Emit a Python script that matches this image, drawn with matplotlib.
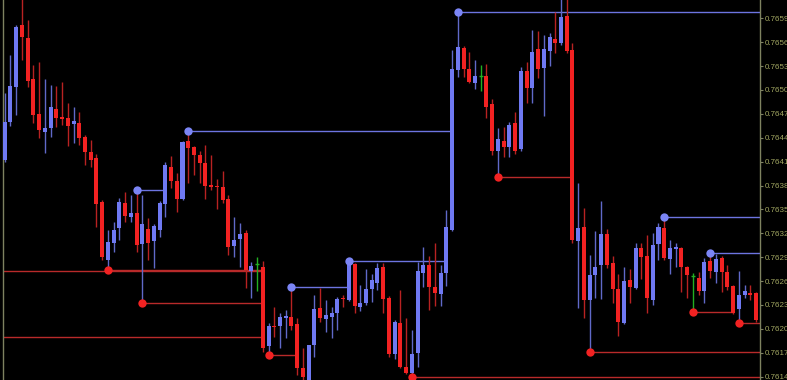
import matplotlib
matplotlib.use("Agg")
import matplotlib.pyplot as plt
import numpy as np

# candle data (132 bars)
opens = [0.76417, 0.76465, 0.76509, 0.76587, 0.76570, 0.76519, 0.76475, 0.76452, 0.76457, 0.76481,
         0.76471, 0.76470, 0.76462, 0.76463, 0.76446, 0.76427, 0.76420, 0.76364, 0.76292, 0.76313,
         0.76332, 0.76363, 0.76345, 0.76350, 0.76311, 0.76330, 0.76315, 0.76329, 0.76362, 0.76408,
         0.76391, 0.76368, 0.76441, 0.76434, 0.76423, 0.76413, 0.76386, 0.76384, 0.76383, 0.76368,
         0.76309, 0.76318, 0.76325, 0.76278, 0.76286, 0.76283, 0.76183, 0.76209, 0.76208, 0.76219,
         0.76220, 0.76211, 0.76156, 0.76141, 0.76185, 0.76231, 0.76217, 0.76220, 0.76225, 0.76244,
         0.76241, 0.76286, 0.76232, 0.76237, 0.76255, 0.76263, 0.76283, 0.76244, 0.76174, 0.76212,
         0.76157, 0.76149, 0.76175, 0.76275, 0.76285, 0.76258, 0.76249, 0.76275, 0.76329, 0.76530,
         0.76558, 0.76531, 0.76514, 0.76523, 0.76523, 0.76487, 0.76429, 0.76441, 0.76433, 0.76463,
         0.76431, 0.76529, 0.76507, 0.76556, 0.76533, 0.76554, 0.76569, 0.76564, 0.76598, 0.76555,
         0.76315, 0.76333, 0.76241, 0.76273, 0.76285, 0.76324, 0.76288, 0.76255, 0.76213, 0.76266,
         0.76256, 0.76307, 0.76296, 0.76241, 0.76312, 0.76332, 0.76293, 0.76305, 0.76307, 0.76283,
         0.76272, 0.76269, 0.76252, 0.76290, 0.76277, 0.76294, 0.76277, 0.76259, 0.76230, 0.76248,
         0.76250, 0.76250]
highs = [0.76501, 0.76549, 0.76587, 0.76625, 0.76593, 0.76536, 0.76540, 0.76519, 0.76511, 0.76510,
         0.76515, 0.76489, 0.76484, 0.76477, 0.76448, 0.76442, 0.76425, 0.76367, 0.76329, 0.76339,
         0.76369, 0.76377, 0.76373, 0.76379, 0.76373, 0.76344, 0.76337, 0.76366, 0.76415, 0.76422,
         0.76401, 0.76441, 0.76454, 0.76435, 0.76429, 0.76436, 0.76423, 0.76393, 0.76403, 0.76373,
         0.76346, 0.76338, 0.76329, 0.76289, 0.76295, 0.76290, 0.76213, 0.76233, 0.76225, 0.76229,
         0.76257, 0.76219, 0.76181, 0.76185, 0.76248, 0.76256, 0.76241, 0.76233, 0.76245, 0.76248,
         0.76290, 0.76288, 0.76260, 0.76280, 0.76274, 0.76288, 0.76288, 0.76246, 0.76216, 0.76254,
         0.76219, 0.76204, 0.76289, 0.76308, 0.76297, 0.76313, 0.76285, 0.76354, 0.76555, 0.76603,
         0.76560, 0.76553, 0.76543, 0.76536, 0.76538, 0.76494, 0.76457, 0.76458, 0.76465, 0.76477,
         0.76534, 0.76540, 0.76580, 0.76579, 0.76574, 0.76577, 0.76603, 0.76625, 0.76625, 0.76564,
         0.76388, 0.76357, 0.76298, 0.76328, 0.76366, 0.76330, 0.76297, 0.76274, 0.76283, 0.76280,
         0.76313, 0.76313, 0.76323, 0.76326, 0.76338, 0.76346, 0.76317, 0.76313, 0.76308, 0.76284,
         0.76275, 0.76276, 0.76294, 0.76300, 0.76299, 0.76297, 0.76285, 0.76260, 0.76278, 0.76260,
         0.76260, 0.76251]
lows = [0.76415, 0.76460, 0.76474, 0.76543, 0.76509, 0.76463, 0.76445, 0.76426, 0.76446, 0.76459,
        0.76461, 0.76435, 0.76438, 0.76436, 0.76411, 0.76408, 0.76333, 0.76292, 0.76279, 0.76301,
        0.76317, 0.76339, 0.76339, 0.76302, 0.76237, 0.76292, 0.76282, 0.76320, 0.76345, 0.76382,
        0.76352, 0.76367, 0.76388, 0.76398, 0.76388, 0.76368, 0.76379, 0.76355, 0.76363, 0.76298,
        0.76295, 0.76283, 0.76256, 0.76244, 0.76252, 0.76176, 0.76172, 0.76195, 0.76181, 0.76194,
        0.76204, 0.76147, 0.76136, 0.76136, 0.76170, 0.76214, 0.76201, 0.76194, 0.76204, 0.76233,
        0.76240, 0.76225, 0.76227, 0.76235, 0.76239, 0.76254, 0.76225, 0.76170, 0.76167, 0.76156,
        0.76148, 0.76145, 0.76157, 0.76258, 0.76229, 0.76234, 0.76234, 0.76259, 0.76328, 0.76521,
        0.76521, 0.76514, 0.76506, 0.76504, 0.76470, 0.76423, 0.76396, 0.76421, 0.76421, 0.76424,
        0.76429, 0.76489, 0.76489, 0.76520, 0.76472, 0.76535, 0.76551, 0.76561, 0.76551, 0.76313,
        0.76231, 0.76219, 0.76176, 0.76244, 0.76243, 0.76281, 0.76237, 0.76196, 0.76211, 0.76237,
        0.76255, 0.76268, 0.76225, 0.76235, 0.76292, 0.76292, 0.76274, 0.76283, 0.76251, 0.76244,
        0.76226, 0.76248, 0.76237, 0.76269, 0.76263, 0.76251, 0.76254, 0.76224, 0.76213, 0.76244,
        0.76241, 0.76214]
closes = [0.76465, 0.76510, 0.76584, 0.76572, 0.76516, 0.76474, 0.76455, 0.76457, 0.76484, 0.76470,
          0.76468, 0.76460, 0.76466, 0.76445, 0.76427, 0.76417, 0.76362, 0.76295, 0.76314, 0.76329,
          0.76364, 0.76347, 0.76350, 0.76310, 0.76337, 0.76313, 0.76334, 0.76363, 0.76411, 0.76391,
          0.76368, 0.76440, 0.76432, 0.76423, 0.76413, 0.76384, 0.76383, 0.76383, 0.76367, 0.76308,
          0.76317, 0.76324, 0.76279, 0.76284, 0.76286, 0.76181, 0.76208, 0.76207, 0.76220, 0.76220,
          0.76208, 0.76156, 0.76144, 0.76185, 0.76230, 0.76219, 0.76222, 0.76225, 0.76242, 0.76242,
          0.76289, 0.76234, 0.76237, 0.76255, 0.76266, 0.76282, 0.76243, 0.76174, 0.76214, 0.76157,
          0.76149, 0.76173, 0.76278, 0.76285, 0.76258, 0.76250, 0.76275, 0.76333, 0.76531, 0.76559,
          0.76531, 0.76515, 0.76523, 0.76523, 0.76484, 0.76429, 0.76443, 0.76433, 0.76461, 0.76429,
          0.76529, 0.76507, 0.76553, 0.76531, 0.76556, 0.76572, 0.76564, 0.76597, 0.76554, 0.76317,
          0.76332, 0.76241, 0.76273, 0.76283, 0.76324, 0.76285, 0.76255, 0.76214, 0.76265, 0.76258,
          0.76307, 0.76295, 0.76244, 0.76310, 0.76333, 0.76294, 0.76307, 0.76308, 0.76283, 0.76273,
          0.76272, 0.76253, 0.76289, 0.76278, 0.76293, 0.76277, 0.76258, 0.76225, 0.76248, 0.76252,
          0.76248, 0.76216]

# fractal levels: bar index where the fractal formed, bar index where the line stops (None = runs to the edge)
up_frac_bar = [23, 32, 50, 60, 79, 115, 123]
up_frac_end = [28, 78, 60, 77, None, None, None]
down_frac_bar = [18, 24, 46, 71, 86, 102, 120, 128]
down_frac_end = [45, 45, 51, None, 99, None, 127, None]
# support levels from fractals that lie left of the visible window
old_levels = [0.76278, 0.76195]
old_level_end = [45, 45]

price_ticks = np.round(np.arange(0.76145, 0.76600, 0.0003), 5)

BLUE = "#6f79f2"
BLUE_WICK = "#6069c8"
RED = "#f22222"
RED_WICK = "#b82222"
GREEN = "#22b022"
AXIS = "#7e8260"
TEXT = "#a3a862"

o = np.array(opens)
h = np.array(highs)
l = np.array(lows)
c = np.array(closes)
x = np.arange(len(o))
up = c > o
dn = c < o
flat = c == o

fig = plt.figure(figsize=(7.87, 3.80), dpi=100, facecolor="black")
ax = fig.add_axes([3 / 787, 0, 757 / 787, 1])
ax.set_facecolor("black")
x_left, x_right = -0.3, 131.7
ax.set_xlim(x_left, x_right)
ax.set_ylim(0.761408, 0.766180)

# fractal lines first, candles on top
for b, e in zip(up_frac_bar, up_frac_end):
    ax.hlines(h[b], b, x_right if e is None else e, color="#6c74e0", lw=1.0, zorder=1)
for b, e in zip(down_frac_bar, down_frac_end):
    ax.hlines(l[b], b, x_right if e is None else e, color="#b82a2a", lw=1.0, zorder=1)
for lev, e in zip(old_levels, old_level_end):
    ax.hlines(lev, x_left, e, color="#b82a2a", lw=1.0, zorder=1)

# wicks
ax.vlines(x[up], l[up], h[up], color=BLUE_WICK, lw=1.0, zorder=2)
ax.vlines(x[dn], l[dn], h[dn], color=RED_WICK, lw=1.0, zorder=2)
ax.vlines(x[flat], l[flat], h[flat], color=GREEN, lw=1.0, zorder=2)

# bodies
min_h = 0.00002
ax.bar(x[up], np.maximum(c[up] - o[up], min_h), bottom=o[up], width=0.7, color=BLUE, linewidth=0, zorder=3)
ax.bar(x[dn], np.maximum(o[dn] - c[dn], min_h), bottom=c[dn], width=0.7, color=RED, linewidth=0, zorder=3)
ax.hlines(o[flat], x[flat] - 0.35, x[flat] + 0.35, color=GREEN, lw=1.0, zorder=3)

# fractal dots
ax.plot(up_frac_bar, h[up_frac_bar], "o", color="#7b85f5", ms=6, mec="none", zorder=4)
ax.plot(down_frac_bar, l[down_frac_bar], "o", color="#f22222", ms=6, mec="none", zorder=4)

for side in ["top", "bottom"]:
    ax.spines[side].set_visible(False)
for side in ["left", "right"]:
    ax.spines[side].set_color(AXIS)
    ax.spines[side].set_linewidth(1.0)

ax.set_xticks([])
ax.yaxis.tick_right()
ax.set_yticks(price_ticks)
ax.set_yticklabels([f"{p:.5f}" for p in price_ticks], family="Liberation Sans")
ax.tick_params(axis="y", colors=AXIS, labelcolor=TEXT, labelsize=5.8, length=2, width=0.8, pad=1.2)

fig.savefig("out.png", dpi=100, facecolor="black")
